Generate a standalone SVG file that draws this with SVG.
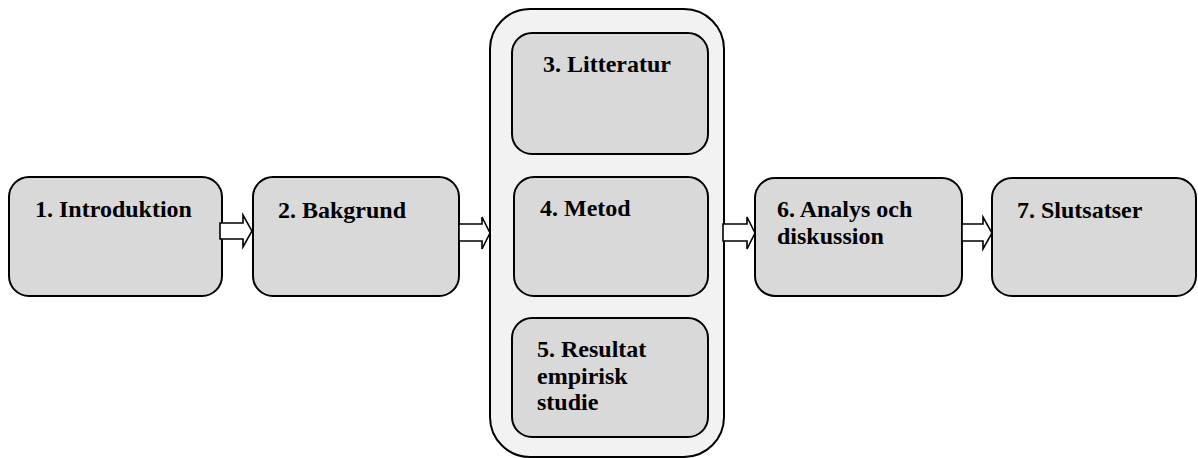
<svg xmlns="http://www.w3.org/2000/svg" width="1198" height="458" viewBox="0 0 1198 458">
<style>
.box{fill:#d9d9d9;stroke:#000;stroke-width:2}
.cont{fill:#f2f2f2;stroke:#000;stroke-width:2}
.arr{fill:#fff;stroke:#000;stroke-width:1.6;stroke-linejoin:miter}
text{font-family:"Liberation Serif","Times New Roman",serif;font-weight:bold;font-size:24px;fill:#000}
</style>
<rect width="1198" height="458" fill="#fff"/>
<g id="group-3-5">
<rect class="cont" x="490" y="9" width="234" height="448" rx="40" ry="40"/>
</g>
<g id="node-1">
<rect class="box" x="9" y="177" width="213" height="119" rx="20" ry="20"/>
<text x="35" y="217">1. Introduktion</text>
</g>
<g id="node-2">
<rect class="box" x="253" y="177" width="206" height="119" rx="20" ry="20"/>
<text x="278" y="218">2. Bakgrund</text>
</g>
<g id="node-3">
<rect class="box" x="512" y="33" width="196" height="121" rx="20" ry="20"/>
<text x="543" y="72">3. Litteratur</text>
</g>
<g id="node-4">
<rect class="box" x="514" y="177" width="194" height="119" rx="20" ry="20"/>
<text x="540" y="216">4. Metod</text>
</g>
<g id="node-5">
<rect class="box" x="512" y="318" width="196" height="119" rx="20" ry="20"/>
<text x="537" y="357">5. Resultat</text>
<text x="537" y="384">empirisk</text>
<text x="537" y="410">studie</text>
</g>
<g id="node-6">
<rect class="box" x="755" y="178" width="207" height="118" rx="20" ry="20"/>
<text x="777" y="217">6. Analys och</text>
<text x="777" y="244">diskussion</text>
</g>
<g id="node-7">
<rect class="box" x="992" y="178" width="204" height="118" rx="20" ry="20"/>
<text x="1017" y="218">7. Slutsatser</text>
</g>
<g id="connectors">
<polygon class="arr" points="220,223 243,223 243,215 252,231 243,247 243,239 220,239"/>
<polygon class="arr" points="459,224 482,224 482,217 490,233 482,249 482,241 459,241"/>
<polygon class="arr" points="723,224 747,224 747,217 755,233 747,249 747,241 723,241"/>
<polygon class="arr" points="962,224 983,224 983,217 992,233 983,249 983,241 962,241"/>
</g>
</svg>
